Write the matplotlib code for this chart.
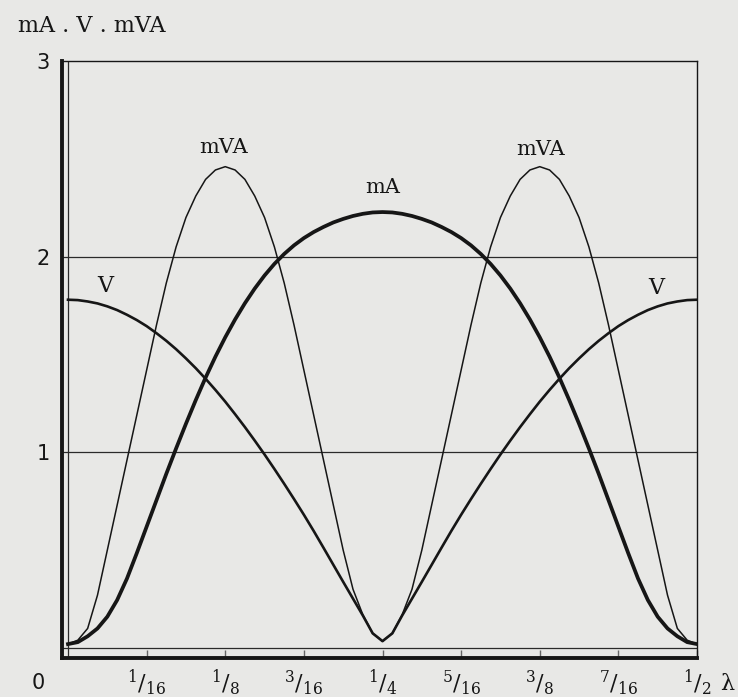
import numpy as np
import matplotlib
matplotlib.use("Agg")
import matplotlib.pyplot as plt

# Position along the line, in wavelengths (readings every 1/128 λ)
position_lambda = np.linspace(0.0, 0.5, 65)

current_mA = [
    0.02, 0.03, 0.06, 0.10, 0.16, 0.245, 0.355, 0.485, 0.62, 0.755, 0.89, 1.02,
    1.146, 1.267, 1.382, 1.489, 1.588, 1.679, 1.762, 1.837, 1.904, 1.963, 2.014,
    2.058, 2.095, 2.126, 2.152, 2.175, 2.193, 2.208, 2.219, 2.226, 2.228,
    2.226, 2.219, 2.208, 2.193, 2.175, 2.152, 2.126, 2.095, 2.058, 2.014, 1.963,
    1.904, 1.837, 1.762, 1.679, 1.588, 1.489, 1.382, 1.267, 1.146, 1.02, 0.89,
    0.755, 0.62, 0.485, 0.355, 0.245, 0.16, 0.10, 0.06, 0.03, 0.02,
]

voltage_V = [
    1.780, 1.778, 1.771, 1.761, 1.746, 1.727, 1.703, 1.676, 1.645, 1.609, 1.570,
    1.527, 1.480, 1.430, 1.376, 1.319, 1.259, 1.195, 1.129, 1.060, 0.989, 0.915,
    0.839, 0.761, 0.681, 0.598, 0.512, 0.425, 0.338, 0.252, 0.166, 0.075, 0.035,
    0.075, 0.166, 0.252, 0.338, 0.425, 0.512, 0.598, 0.681, 0.761, 0.839, 0.915,
    0.989, 1.060, 1.129, 1.195, 1.259, 1.319, 1.376, 1.430, 1.480, 1.527, 1.570,
    1.609, 1.645, 1.676, 1.703, 1.727, 1.746, 1.761, 1.771, 1.778, 1.780,
]

power_mVA = [
    0.02, 0.04, 0.10, 0.27, 0.50, 0.73, 0.96, 1.19, 1.42, 1.65, 1.865, 2.05, 2.20,
    2.31, 2.395, 2.443, 2.46, 2.443, 2.395, 2.31, 2.20, 2.05, 1.865, 1.65, 1.42,
    1.19, 0.96, 0.73, 0.50, 0.30, 0.17, 0.075, 0.035,
    0.075, 0.17, 0.30, 0.50, 0.73, 0.96, 1.19, 1.42, 1.65, 1.865, 2.05, 2.20, 2.31,
    2.395, 2.443, 2.46, 2.443, 2.395, 2.31, 2.20, 2.05, 1.865, 1.65, 1.42, 1.19,
    0.96, 0.73, 0.50, 0.27, 0.10, 0.04, 0.02,
]

x_ticks = [1/16, 1/8, 3/16, 1/4, 5/16, 3/8, 7/16, 1/2]
x_tick_labels = [r"$^{1}/_{16}$", r"$^{1}/_{8}$", r"$^{3}/_{16}$", r"$^{1}/_{4}$",
                 r"$^{5}/_{16}$", r"$^{3}/_{8}$", r"$^{7}/_{16}$", r"$^{1}/_{2}$"]
y_ticks = [1, 2, 3]
y_tick_labels = ["1", "2", "3"]

plt.rcParams["mathtext.fontset"] = "dejavuserif"

W, H = 738, 697
bg = "#e8e8e6"
ink = "#161616"

fig = plt.figure(figsize=(W / 100, H / 100), dpi=100, facecolor=bg)
ax_left, ax_right, ax_top, ax_bottom = 62, 697, 61, 658
ax = fig.add_axes([ax_left / W, 1 - ax_bottom / H,
                   (ax_right - ax_left) / W, (ax_bottom - ax_top) / H])
ax.set_facecolor(bg)
ax.set_xlim(-0.00477, 0.5)
ax.set_ylim(-0.0511, 3.0)

# frame
for side in ("left", "bottom"):
    ax.spines[side].set_linewidth(2.8)
    ax.spines[side].set_color(ink)
for side in ("top", "right"):
    ax.spines[side].set_linewidth(1.0)
    ax.spines[side].set_color(ink)

# reference lines: zero lines and the 1 / 2 levels
ax.axvline(0.0, color="#2a2a2a", lw=0.9, zorder=1)
ax.axhline(0.0, color="#2a2a2a", lw=0.9, zorder=1)
for level in (1, 2):
    ax.axhline(level, color="#2a2a2a", lw=0.9, zorder=1)

# curves
ax.plot(position_lambda, power_mVA, color=ink, lw=1.1, zorder=3,
        solid_joinstyle="round")
ax.plot(position_lambda, voltage_V, color=ink, lw=1.9, zorder=4,
        solid_joinstyle="round")
ax.plot(position_lambda, current_mA, color=ink, lw=2.7, zorder=5,
        solid_joinstyle="round")

serif = "DejaVu Serif"
ax.text(0.124, 2.56, "mVA", family=serif, fontsize=15, ha="center", va="center", color=ink)
ax.text(0.3754, 2.55, "mVA", family=serif, fontsize=15, ha="center", va="center", color=ink)
ax.text(0.2498, 2.356, "mA", family=serif, fontsize=15, ha="center", va="center", color=ink)
ax.text(0.030, 1.85, "V", family=serif, fontsize=16, ha="center", va="center", color=ink)
ax.text(0.468, 1.84, "V", family=serif, fontsize=16, ha="center", va="center", color=ink)

# ticks
ax.set_xticks(x_ticks)
ax.set_xticklabels(x_tick_labels, fontsize=16, color=ink)
ax.tick_params(axis="x", direction="in", length=6, width=1.0, color="#666666", pad=7)
ax.set_yticks(y_ticks)
ax.set_yticklabels(y_tick_labels, family="DejaVu Sans", fontsize=15, color=ink)
ax.tick_params(axis="y", length=0, pad=9)

fig.text(38 / W, 1 - 683 / H, "0", family="DejaVu Sans", fontsize=15,
         ha="center", va="center", color=ink)
fig.text(727 / W, 1 - 684 / H, "λ", family=serif, fontsize=16,
         ha="center", va="center", color=ink)
fig.text(92 / W, 1 - 26 / H, "mA . V . mVA", family=serif, fontsize=16,
         ha="center", va="center", color=ink)

fig.savefig("out.png", dpi=100, facecolor=bg)
